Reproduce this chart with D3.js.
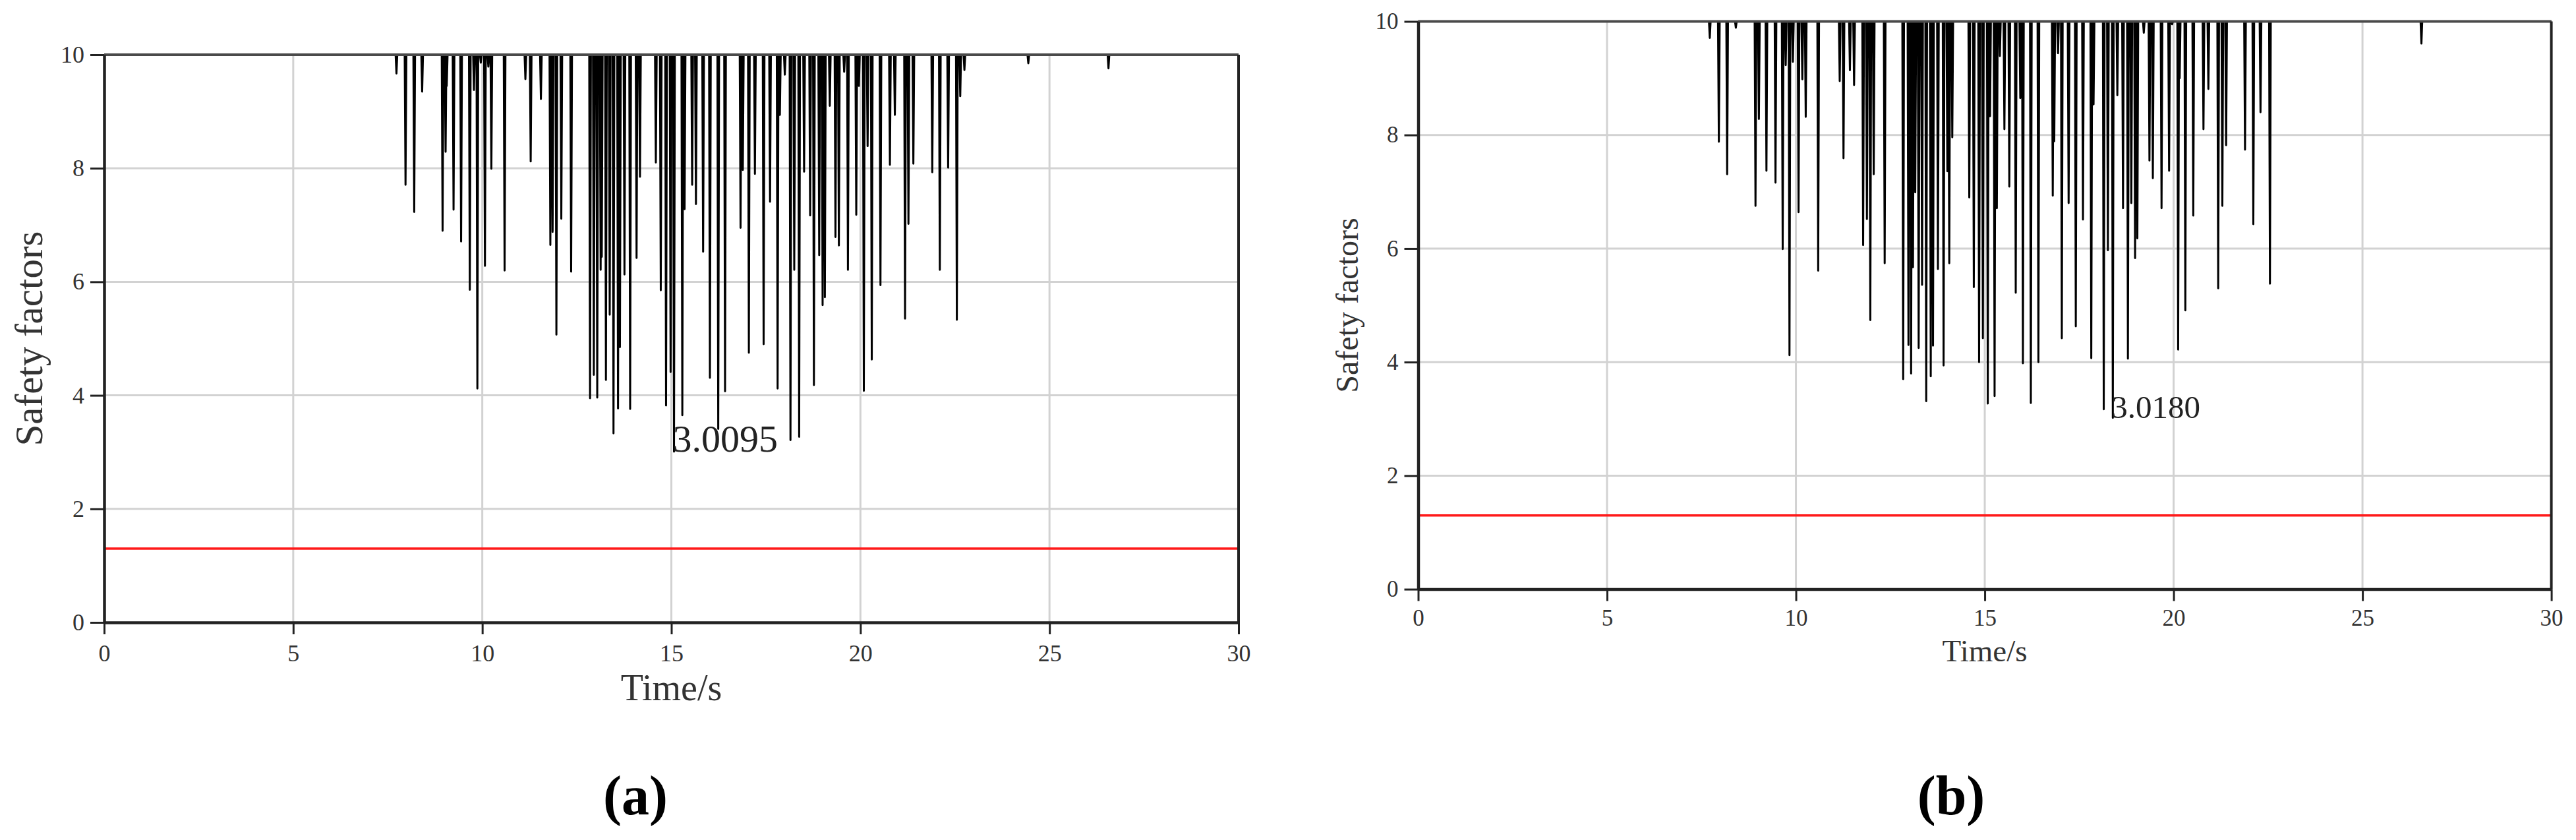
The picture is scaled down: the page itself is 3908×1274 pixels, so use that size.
<!DOCTYPE html>
<html>
<head>
<meta charset="utf-8">
<script src="https://cdn.jsdelivr.net/npm/d3@7"></script>
<style>
  html, body { margin: 0; padding: 0; background: #fff; }
  svg { display: block; }
</style>
</head>
<body>
<svg id="chart" width="3908" height="1274"></svg>
<script>
const X_TICKS = [0, 5, 10, 15, 20, 25, 30]
const Y_TICKS = [0, 2, 4, 6, 8, 10]
const LIMIT = 1.3
const CAP = 10

// panel (a): spike times (s) and the minimum safety factor reached in each dip
const timesA = [7.73, 7.97, 8.20, 8.41, 8.95, 9.03, 9.06, 9.24, 9.44, 9.67, 9.78, 9.87, 9.96, 10.07, 10.16, 10.24,
  10.59, 11.14, 11.28, 11.55, 11.80, 11.86, 11.96, 12.09, 12.35, 12.85, 12.95, 13.04, 13.13, 13.16, 13.27,
  13.37, 13.47, 13.59, 13.64, 13.76, 13.91, 14.08, 14.17, 14.59, 14.72, 14.86, 14.98, 15.07, 15.29, 15.35,
  15.55, 15.65, 15.84, 16.02, 16.24, 16.42, 16.83, 16.89, 17.05, 17.21, 17.44, 17.61, 17.81, 17.87, 18.00,
  18.15, 18.25, 18.38, 18.51, 18.67, 18.77, 18.91, 19.00, 19.06, 19.19, 19.34, 19.43, 19.57, 19.67, 19.89,
  19.96, 20.09, 20.19, 20.30, 20.53, 20.78, 20.91, 21.18, 21.27, 21.40, 21.90, 22.10, 22.32, 22.55, 22.64,
  22.75, 24.44, 26.56]
const minsA = [9.67, 7.71, 7.23, 9.35, 6.90, 8.29, 9.45, 7.27, 6.71, 5.86, 9.38, 4.12, 9.86, 6.28, 9.79, 7.99,
  6.20, 9.57, 8.12, 9.22, 6.65, 6.88, 5.07, 7.11, 6.18, 3.95, 4.36, 3.96, 6.21, 6.44, 4.27,
  5.42, 3.33, 3.77, 4.85, 6.13, 3.76, 6.42, 7.85, 8.10, 5.85, 3.82, 4.41, 3.0095, 3.65, 7.28,
  7.71, 7.37, 6.53, 4.31, 3.41, 4.07, 6.95, 7.97, 4.75, 7.90, 4.90, 7.41, 4.12, 8.94, 9.65,
  3.21, 6.21, 3.27, 7.94, 7.17, 4.18, 6.47, 5.59, 5.73, 9.10, 6.79, 6.64, 9.70, 6.21, 7.18,
  9.45, 4.08, 8.39, 4.63, 5.94, 8.06, 8.94, 5.35, 7.02, 8.08, 7.93, 6.21, 8.01, 5.33, 9.27,
  9.73, 9.85, 9.76]

// panel (b)
const timesB = [7.72, 7.96, 8.18, 8.41, 8.93, 9.02, 9.22, 9.46, 9.65, 9.73, 9.83, 9.92, 10.07, 10.17, 10.26,
  10.59, 11.16, 11.26, 11.43, 11.54, 11.78, 11.88, 11.97, 12.06, 12.35, 12.84, 12.98, 13.05, 13.10, 13.16,
  13.25, 13.34, 13.45, 13.57, 13.63, 13.76, 13.91, 14.01, 14.06, 14.14, 14.59, 14.71, 14.85, 14.95, 15.08,
  15.14, 15.26, 15.32, 15.40, 15.52, 15.65, 15.82, 15.94, 16.01, 16.22, 16.42, 16.80, 16.84, 16.94, 17.04,
  17.22, 17.41, 17.60, 17.82, 17.88, 18.15, 18.26, 18.39, 18.51, 18.66, 18.79, 18.88, 18.98, 19.04, 19.21,
  19.36, 19.45, 19.68, 19.88, 19.96, 20.12, 20.16, 20.31, 20.52, 20.79, 20.92, 21.18, 21.29, 21.39, 21.89,
  22.11, 22.30, 22.55, 26.56]
const minsB = [9.71, 7.88, 7.31, 9.89, 6.75, 8.28, 7.37, 7.16, 5.99, 9.23, 4.12, 9.29, 6.64, 8.98, 8.32,
  5.61, 8.95, 7.59, 9.14, 8.88, 6.06, 6.52, 4.74, 7.31, 5.74, 3.70, 4.30, 3.80, 5.67, 6.99,
  4.25, 5.36, 3.31, 3.75, 4.29, 5.64, 3.94, 7.36, 5.74, 7.96, 6.90, 5.32, 4.00, 4.42, 3.27,
  8.33, 3.40, 6.71, 9.39, 8.10, 7.09, 5.22, 8.65, 3.98, 3.28, 4.00, 6.93, 7.89, 9.44, 4.42,
  6.80, 4.63, 6.51, 4.07, 8.54, 3.17, 5.97, 3.018, 8.70, 6.71, 4.06, 6.80, 5.83, 6.18, 9.80,
  7.55, 7.24, 6.71, 7.37, 9.95, 4.22, 9.00, 4.91, 6.58, 8.10, 8.81, 5.30, 6.75, 7.82, 7.74,
  6.43, 8.40, 5.38, 9.61]

const FONT = '"Liberation Serif", "Times New Roman", serif'
const SPIKE_HALF = 0.022

const panels = [
  {
    times: timesA, mins: minsA, label: '(a)', minText: '3.0095',
    left: 158, right: 1879, top: 83, bottom: 944,
    tickFont: 36, xPad: 15, titleFont: 56, titleDy: 118, yTitleFont: 59, yTitleDx: 94,
    noteFont: 58, labelX: 964
  },
  {
    times: timesB, mins: minsB, label: '(b)', minText: '3.0180',
    left: 2151.5, right: 3870.6, top: 32.5, bottom: 893.6,
    tickFont: 35, xPad: 13, titleFont: 47, titleDy: 109, yTitleFont: 48, yTitleDx: 92,
    noteFont: 49, labelX: 2960
  }
]

const svg = d3.select('#chart')

function drawPanel(p) {
  const x = d3.scaleLinear().domain([0, 30]).range([p.left, p.right])
  const y = d3.scaleLinear().domain([0, 10]).range([p.bottom, p.top])
  const g = svg.append('g')

  // grid
  g.append('g')
    .selectAll('line')
    .data(X_TICKS.slice(1, -1))
    .join('line')
    .attr('x1', d => x(d)).attr('x2', d => x(d))
    .attr('y1', p.top).attr('y2', p.bottom)
    .attr('stroke', '#d2d2d2').attr('stroke-width', 3)
  g.append('g')
    .selectAll('line')
    .data(Y_TICKS.slice(1, -1))
    .join('line')
    .attr('x1', p.left).attr('x2', p.right)
    .attr('y1', d => y(d)).attr('y2', d => y(d))
    .attr('stroke', '#d2d2d2').attr('stroke-width', 3)

  // limit line
  g.append('line')
    .attr('x1', x(0)).attr('x2', x(30))
    .attr('y1', y(LIMIT)).attr('y2', y(LIMIT))
    .attr('stroke', '#ff1a1a').attr('stroke-width', 3.5)

  // series: capped at 10, dipping at each spike
  const pts = [[0, CAP]]
  p.times.forEach((t, i) => {
    pts.push([t - SPIKE_HALF, CAP], [t, p.mins[i]], [t + SPIKE_HALF, CAP])
  })
  pts.push([30, CAP])
  const line = d3.line().x(d => x(d[0])).y(d => y(d[1]))
  g.append('path')
    .attr('d', line(pts))
    .attr('fill', 'none')
    .attr('stroke', '#000')
    .attr('stroke-width', 3)
    .attr('stroke-linejoin', 'round')

  // frame top / right
  g.append('line')
    .attr('x1', p.left).attr('x2', p.right).attr('y1', p.top).attr('y2', p.top)
    .attr('stroke', '#4a4a4a').attr('stroke-width', 4)
  g.append('line')
    .attr('x1', p.right).attr('x2', p.right).attr('y1', p.top).attr('y2', p.bottom)
    .attr('stroke', '#222').attr('stroke-width', 4)

  // axes
  const xAxis = g.append('g')
    .attr('transform', `translate(0,${p.bottom})`)
    .call(d3.axisBottom(x).tickValues(X_TICKS).tickSize(18).tickSizeOuter(0).tickPadding(p.xPad))
  const yAxis = g.append('g')
    .attr('transform', `translate(${p.left},0)`)
    .call(d3.axisLeft(y).tickValues(Y_TICKS).tickSize(21).tickSizeOuter(0).tickPadding(9))
  ;[xAxis, yAxis].forEach(a => {
    a.select('.domain').attr('stroke', '#222').attr('stroke-width', 4.5)
    a.selectAll('.tick line').attr('stroke', '#222').attr('stroke-width', 3)
    a.selectAll('.tick text')
      .attr('fill', '#333')
      .attr('font-family', FONT)
      .attr('font-size', p.tickFont)
  })

  // titles
  g.append('text')
    .attr('x', (p.left + p.right) / 2)
    .attr('y', p.bottom + p.titleDy)
    .attr('text-anchor', 'middle')
    .attr('font-family', FONT)
    .attr('font-size', p.titleFont)
    .attr('fill', '#333')
    .text('Time/s')
  g.append('text')
    .attr('transform', `translate(${p.left - p.yTitleDx},${(p.top + p.bottom) / 2}) rotate(-90)`)
    .attr('text-anchor', 'middle')
    .attr('font-family', FONT)
    .attr('font-size', p.yTitleFont)
    .attr('fill', '#333')
    .text('Safety factors')

  // minimum annotation
  const iMin = d3.minIndex(p.mins)
  g.append('text')
    .attr('x', x(p.times[iMin]) - 2)
    .attr('y', y(p.mins[iMin]))
    .attr('font-family', FONT)
    .attr('font-size', p.noteFont)
    .attr('fill', '#222')
    .text(p.minText)

  // panel label
  g.append('text')
    .attr('x', p.labelX)
    .attr('y', 1235)
    .attr('text-anchor', 'middle')
    .attr('font-family', FONT)
    .attr('font-weight', 700)
    .attr('font-size', 84)
    .attr('fill', '#000')
    .text(p.label)
}

panels.forEach(drawPanel)
</script>
</body>
</html>
